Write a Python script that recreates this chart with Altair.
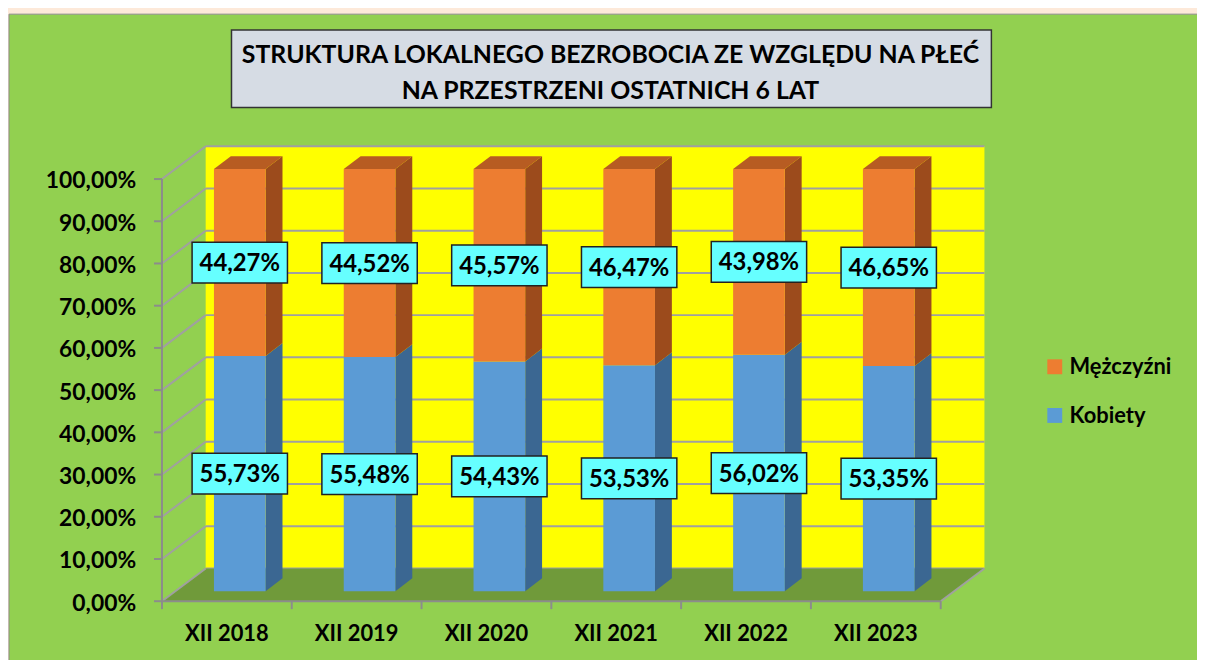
import altair as alt
import pandas as pd

# ---------------- data ----------------
CATEGORIES = ["XII 2018", "XII 2019", "XII 2020", "XII 2021", "XII 2022", "XII 2023"]
KOBIETY = [55.73, 55.48, 54.43, 53.53, 56.02, 53.35]
MEZCZYZNI = [44.27, 44.52, 45.57, 46.47, 43.98, 46.65]
SERIES = ["Mężczyźni", "Kobiety"]
Y_TICKS = [0.0, 0.1, 0.2, 0.3, 0.4, 0.5, 0.6, 0.7, 0.8, 0.9, 1.0]
TITLE_LINES = ["STRUKTURA LOKALNEGO BEZROBOCIA ZE WZGLĘDU NA PŁEĆ",
               "NA PRZESTRZENI OSTATNICH 6 LAT"]

# ---------------- style ----------------
BG_PAGE = "#fde9d9"
BG_GREEN = "#92d050"
WALL = "#ffff00"
FLOOR = "#709a3a"
GRID = "#a0a0a0"
AXIS = "#8c8c8c"
FRONT = {"Kobiety": "#5b9bd5", "Mężczyźni": "#ed7d31"}
SIDE = {"Kobiety": "#3b6792", "Mężczyźni": "#9c4b1c"}
TOP = {"Kobiety": "#4a80b4", "Mężczyźni": "#b75c22"}
FONT = "Lato"

W, H = 784, 425
N = len(CATEGORIES)
PXX = W / N
PXY = H


def dx(p):
    return p / PXX


def dy(p):
    return p / PXY


BAR_SHIFT, BAR_HALF, BAR_LIFT = 13, 26, 10
DEPTH_X, DEPTH_Y = 17, 13
WALL_X, WALL_Y = 44, 33
TICK = 8

xs = alt.Scale(domain=[-0.5, N - 0.5], nice=False, zero=False)
ys = alt.Scale(domain=[0, 1], nice=False, zero=False)

# ---------------- geometry tables built from data ----------------
fronts, sides, tops, labels = [], [], [], []
for i, (k, m) in enumerate(zip(KOBIETY, MEZCZYZNI)):
    x0 = i + dx(BAR_SHIFT - BAR_HALF)
    x1 = i + dx(BAR_SHIFT + BAR_HALF)
    base = dy(BAR_LIFT)
    segs = [("Kobiety", base, base + k / 100, k),
            ("Mężczyźni", base + k / 100, base + (k + m) / 100, m)]
    for name, y0, y1, v in segs:
        fronts.append(dict(x0=x0, x1=x1, y0=y0, y1=y1, fill=FRONT[name]))
        gid = f"s{i}{name}"
        sides.append(dict(x=x1, yt=y1, yb=y0, gid=gid, fill=SIDE[name]))
        sides.append(dict(x=x1 + dx(DEPTH_X), yt=y1 + dy(DEPTH_Y),
                          yb=y0 + dy(DEPTH_Y), gid=gid, fill=SIDE[name]))
        labels.append(dict(x=i + dx(BAR_SHIFT), y=(y0 + y1) / 2,
                           txt=f"{v:.2f}".replace(".", ",") + "%"))
    yt = base + (k + m) / 100
    gid = f"t{i}"
    for xx, a, b in [(x0, yt, yt),
                     (x0 + dx(DEPTH_X), yt + dy(DEPTH_Y), yt),
                     (x1, yt + dy(DEPTH_Y), yt),
                     (x1 + dx(DEPTH_X), yt + dy(DEPTH_Y), yt + dy(DEPTH_Y))]:
        tops.append(dict(x=xx, yt=a, yb=b, gid=gid, fill=TOP["Mężczyźni"]))

fronts = pd.DataFrame(fronts)
sides = pd.DataFrame(sides)
tops = pd.DataFrame(tops)
labels = pd.DataFrame(labels)

wx0, wx1 = -0.5 + dx(WALL_X), N - 0.5 + dx(WALL_X)
wall = pd.DataFrame([dict(x0=wx0, x1=wx1, y0=dy(WALL_Y), y1=1 + dy(WALL_Y))])
back_grid = pd.DataFrame([dict(x0=wx0, x1=wx1, y=v + dy(WALL_Y)) for v in Y_TICKS])
side_diag = pd.DataFrame([dict(x0=-0.5, x1=wx0, y0=v, y1=v + dy(WALL_Y)) for v in Y_TICKS]
                         + [dict(x0=N - 0.5, x1=wx1, y0=0.0, y1=dy(WALL_Y))])
floor = pd.DataFrame([dict(x=-0.5, yt=0.0, yb=0.0),
                      dict(x=wx0, yt=dy(WALL_Y), yb=0.0),
                      dict(x=N - 0.5, yt=dy(WALL_Y), yb=0.0),
                      dict(x=wx1, yt=dy(WALL_Y), yb=dy(WALL_Y))])
# axis lines and ticks (front plane)
axis_lines = pd.DataFrame([dict(x0=-0.5, x1=-0.5, y0=0.0, y1=1.0),
                           dict(x0=-0.5, x1=N - 0.5, y0=0.0, y1=0.0)]
                          + [dict(x0=-0.5 - dx(TICK), x1=-0.5, y0=v, y1=v) for v in Y_TICKS]
                          + [dict(x0=b - 0.5, x1=b - 0.5, y0=-dy(TICK), y1=0.0) for b in range(N + 1)])
ytick_lab = pd.DataFrame(dict(y=Y_TICKS, t=[f"{v * 100:.2f}".replace(".", ",") + "%" for v in Y_TICKS]))
cats = pd.DataFrame(dict(x=list(range(N)), cat=CATEGORIES))
one = pd.DataFrame({"a": [0]})


def X(f):
    return alt.X(f, type="quantitative", scale=xs, axis=None, title=None)


def Y(f):
    return alt.Y(f, type="quantitative", scale=ys, axis=None, title=None, stack=None)


# ---------------- layers ----------------
green_bg = alt.Chart(one).mark_rect(fill=BG_GREEN, stroke="#8c8c8c", strokeWidth=1).encode(
    x=alt.value(-154), x2=alt.value(1400), y=alt.value(-166), y2=alt.value(700))

title_box = alt.Chart(one).mark_rect(fill="#d6dce4", stroke="#333333", strokeWidth=1.5).encode(
    x=alt.value(70), x2=alt.value(835), y=alt.value(-150), y2=alt.value(-72))

title_layers = []
for j, line in enumerate(TITLE_LINES):
    title_layers.append(
        alt.Chart(pd.DataFrame({"t": [line]})).mark_text(
            font=FONT, fontWeight="bold", fontSize=25, color="black",
            align="center", baseline="alphabetic").encode(
            x=alt.value(451.5), y=alt.value(-116.7 + 35.7 * j), text="t:N"))

wall_layer = alt.Chart(wall).mark_rect(fill=WALL).encode(
    x=X("x0"), x2="x1", y=Y("y0"), y2="y1")

grid_layer = alt.Chart(back_grid).mark_rule(color=GRID, strokeWidth=2).encode(
    x=X("x0"), x2="x1", y=Y("y"))

floor_layer = alt.Chart(floor).mark_area(orient="vertical", color=FLOOR).encode(
    x=X("x"), y=Y("yt"), y2="yb")

diag_layer = alt.Chart(side_diag).mark_rule(color=GRID, strokeWidth=2).encode(
    x=X("x0"), x2="x1", y=Y("y0"), y2="y1")

axis_layer = alt.Chart(axis_lines).mark_rule(color=AXIS, strokeWidth=2).encode(
    x=X("x0"), x2="x1", y=Y("y0"), y2="y1")

ytick_layer = alt.Chart(ytick_lab).mark_text(
    font=FONT, fontWeight="bold", fontSize=23, color="black", align="right",
    baseline="alphabetic", dy=9.5).encode(
    x=alt.value(-26), y=Y("y"), text="t:N")

side_layer = alt.Chart(sides).mark_area(orient="vertical").encode(
    x=X("x"), y=Y("yt"), y2="yb", color=alt.Color("fill:N", scale=None), detail="gid:N")

top_layer = alt.Chart(tops).mark_area(orient="vertical").encode(
    x=X("x"), y=Y("yt"), y2="yb", color=alt.Color("fill:N", scale=None), detail="gid:N")

front_layer = alt.Chart(fronts).mark_rect().encode(
    x=X("x0"), x2="x1", y=Y("y0"), y2="y1", color=alt.Color("fill:N", scale=None))

box_layer = alt.Chart(labels).mark_point(
    shape="M-1,-0.427L1,-0.427L1,0.427L-1,0.427Z", size=9216, filled=True,
    fill="#66ffff", stroke="#222222", strokeWidth=1.5, opacity=1).encode(
    x=X("x"), y=Y("y"))

label_layer = alt.Chart(labels).mark_text(
    font=FONT, fontWeight="bold", fontSize=24, color="black", baseline="alphabetic", dy=8.6).encode(
    x=X("x"), y=Y("y"), text="txt:N")

cat_layer = alt.Chart(cats).mark_text(
    font=FONT, fontWeight="bold", fontSize=22, color="black", baseline="alphabetic").encode(
    x=X("x"), y=alt.value(H + 40), text="cat:N")

legend_layers = []
for k, name in enumerate(SERIES):
    d = pd.DataFrame({"n": [name]})
    legend_layers.append(alt.Chart(d).mark_square(size=225, color=FRONT[name], opacity=1).encode(
        x=alt.value(898.8), y=alt.value(189 + 49 * k)))
    legend_layers.append(alt.Chart(d).mark_text(
        font=FONT, fontWeight="bold", fontSize=22, color="black", align="left",
        baseline="alphabetic").encode(
        x=alt.value(913.7), y=alt.value(196.5 + 49 * k), text="n:N"))

chart = alt.layer(
    green_bg, title_box, *title_layers, wall_layer, grid_layer, floor_layer, diag_layer,
    axis_layer, ytick_layer, side_layer, top_layer, front_layer, box_layer, label_layer,
    cat_layer, *legend_layers
).properties(
    width=W, height=H,
    padding={"left": 155, "top": 170, "right": 258, "bottom": 57},
    autosize=alt.AutoSizeParams(type="none"),
    background=BG_PAGE,
).configure_view(strokeWidth=0)

chart.save("out.html", embed_options={"renderer": "svg", "actions": False})
